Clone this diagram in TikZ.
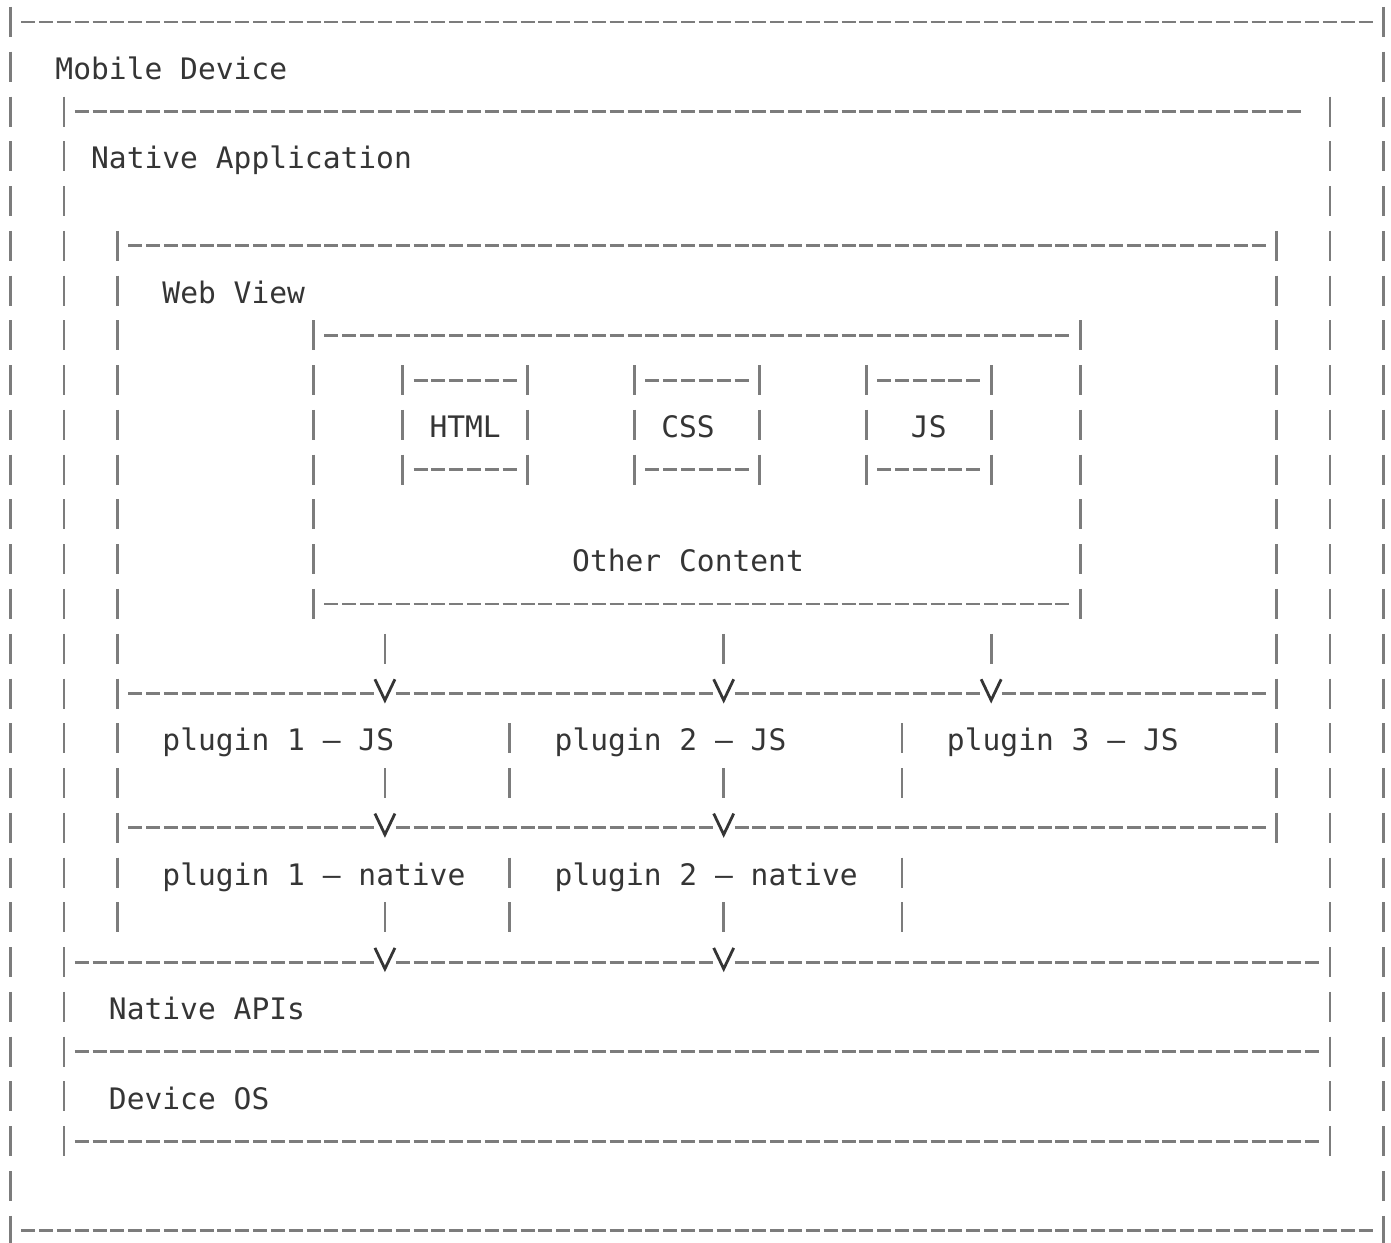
\documentclass[tikz,border=0pt]{standalone}
\usepackage{fontspec}
\setmonofont{DejaVu Sans Mono}
\usepackage{tikz}
\usetikzlibrary{arrows.meta,fit}
\definecolor{asciiink}{HTML}{353535}
\definecolor{asciirule}{HTML}{7C7C7C}

\tikzset{
  layer/.style={inner sep=0pt,outer sep=0pt},
  hdashes/.style={draw=asciirule,line width=1.4pt,dash pattern=on 7pt off 1.915pt},
  vbars/.style={draw=asciirule,line width=1.4pt,dash pattern=on 15pt off 7.385pt},
  lbl/.style={anchor=base west,inner sep=0pt,text=asciiink,font=\ttfamily\fontsize{14.8}{18}\selectfont},
  flow/.style={draw=asciirule,line width=1.4pt,dash pattern=on 15pt off 60pt,
    shorten <=#1,shorten >=-5pt,-{Straight Barb[length=10.5pt,width=10pt,color=asciiink]}},
  vgap/.style={behind path,fill=white,inner sep=0pt,minimum width=8pt,minimum height=4pt}
}

% edges of the boxes, drawn like the characters - and |
\newcommand{\dashline}[2]{\draw[hdashes] ([xshift=5.41pt]#1) -- ([xshift=-5.41pt]#2);}
\newcommand{\sidebars}[2]{\draw[vbars] ([yshift=7.5pt]#1) -- ([yshift=-7.5pt]#2);}
\newcommand{\innerbars}[2]{\draw[vbars] ([yshift=-14.885pt]#1) -- ([yshift=14.885pt]#2);}
\newcommand{\asciibox}[1]{%
  \dashline{#1.north west}{#1.north east}
  \dashline{#1.south west}{#1.south east}
  \sidebars{#1.north west}{#1.south west}
  \sidebars{#1.north east}{#1.south east}}

\begin{document}
\begin{tikzpicture}[x=8.915pt,y=-22.385pt]
\fill[white] (-0.589,-0.491) rectangle (77.425,27.273);
\useasboundingbox (-0.589,-0.491) rectangle (77.425,27.273);

% boxes, in character cells (column, line)
\node[layer,fit={(0,0) (77,27)}] (mobile) {};
\node[layer,fit={(3,2) (74,25)}] (native) {};
\node[layer,fit={(6,5) (71,18)}] (webview) {};
\node[layer,fit={(17,7) (60,13)}] (content) {};
\node[layer,fit={(22,8) (29,10)}] (html) {};
\node[layer,fit={(35,8) (42,10)}] (css) {};
\node[layer,fit={(48,8) (55,10)}] (js) {};
\node[layer,fit={(6,15) (28,18)}] (p1js) {};
\node[layer,fit={(28,15) (50,18)}] (p2js) {};
\node[layer,fit={(50,15) (71,18)}] (p3js) {};
\node[layer,fit={(6,18) (28,21)}] (p1nat) {};
\node[layer,fit={(28,18) (50,21)}] (p2nat) {};
\node[layer,fit={(3,21) (74,23)}] (apis) {};
\node[layer,fit={(3,23) (74,25)}] (os) {};

% labels
\node[lbl] (mobilelbl) at ([shift={(2.5,1.28)}]mobile.north west) {Mobile Device};
\node[lbl] (nativelbl) at ([shift={(1.5,1.28)}]native.north west) {Native Application};
\node[lbl] (webviewlbl) at ([shift={(2.5,1.28)}]webview.north west) {Web View};
\node[lbl,anchor=base] (htmllbl) at ([shift={(0,0.28)}]html.center) {HTML};
\node[lbl,anchor=base] (csslbl) at ([shift={(-0.5,0.28)}]css.center) {CSS};
\node[lbl,anchor=base] (jslbl) at ([shift={(0,0.28)}]js.center) {JS};
\node[lbl,anchor=base] (contentlbl) at ([shift={(-0.5,-0.72)}]content.south) {Other Content};
\node[lbl] (p1jslbl) at ([shift={(2.5,1.28)}]p1js.north west) {plugin 1 – JS};
\node[lbl] (p2jslbl) at ([shift={(2.5,1.28)}]p2js.north west) {plugin 2 – JS};
\node[lbl] (p3jslbl) at ([shift={(2.5,1.28)}]p3js.north west) {plugin 3 – JS};
\node[lbl] (p1natlbl) at ([shift={(2.5,1.28)}]p1nat.north west) {plugin 1 – native};
\node[lbl] (p2natlbl) at ([shift={(2.5,1.28)}]p2nat.north west) {plugin 2 – native};
\node[lbl] (apislbl) at ([shift={(2.5,1.28)}]apis.north west) {Native APIs};
\node[lbl] (oslbl) at ([shift={(2.5,1.28)}]os.north west) {Device OS};

% borders
\asciibox{mobile}
\asciibox{content}
\asciibox{html}
\asciibox{css}
\asciibox{js}
% native application: its top line stops short
\draw[hdashes] ([xshift=5.41pt]native.north west) -- ([xshift=-14.325pt]native.north east);
\sidebars{native.north west}{native.south west}
\sidebars{native.north east}{native.south east}
\dashline{native.south west}{native.south east}
% web view, its left side runs down past the native plugins
\dashline{webview.north west}{webview.north east}
\sidebars{webview.north east}{webview.south east}
\draw[vbars] ([yshift=7.5pt]webview.north west) -- ([yshift=14.885pt]p1nat.south west);
\dashline{webview.south west}{webview.south east}
% plugin rows
\dashline{p1js.north west}{p3js.north east}
\innerbars{p1js.north east}{p1js.south east}
\innerbars{p2js.north east}{p2js.south east}
\innerbars{p1nat.north east}{p1nat.south east}
\innerbars{p2nat.north east}{p2nat.south east}
% native APIs and device OS
\dashline{apis.north west}{apis.north east}
\dashline{os.north west}{os.north east}

% calls going down
\coordinate (c1) at (21,0);
\coordinate (c2) at (40,0);
\coordinate (c3) at (55,0);
\draw[flow=14.885pt] (content.south -| c1) -- (p1js.north -| c1) node[vgap] {};
\draw[flow=14.885pt] (content.south -| c2) -- (p2js.north -| c2) node[vgap] {};
\draw[flow=14.885pt] (content.south -| c3) -- (p3js.north -| c3) node[vgap] {};
\draw[flow=3.69pt] (p1js.center -| c1) -- (p1nat.north -| c1) node[vgap] {};
\draw[flow=3.69pt] (p2js.center -| c2) -- (p2nat.north -| c2) node[vgap] {};
\draw[flow=3.69pt] (p1nat.center -| c1) -- (apis.north -| c1) node[vgap] {};
\draw[flow=3.69pt] (p2nat.center -| c2) -- (apis.north -| c2) node[vgap] {};
\end{tikzpicture}
\end{document}
